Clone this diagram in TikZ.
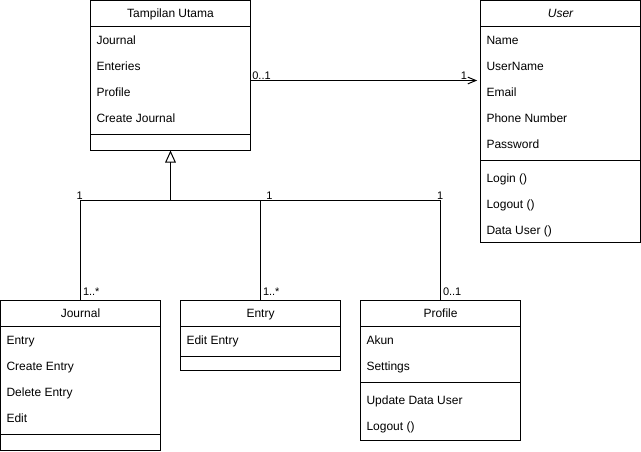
\documentclass[tikz,border=0pt]{standalone}
\usepackage{fontspec}
\setmainfont{Liberation Sans}
\usetikzlibrary{arrows.meta,positioning}
\tikzset{
  uml_head/.style = {draw, rectangle, inner sep=0pt, outer sep=0pt,
    minimum width=120pt, minimum height=19.5pt, text height=6.5pt,
    text depth=0pt, font=\fontsize{9}{11}\selectfont},% kelas, kepala
  uml_part/.style = {draw, rectangle, inner sep=0pt, outer sep=0pt,
    minimum width=120pt},% kelas, kompartemen
  uml_item/.style = {anchor=west, inner sep=0pt, text height=6.5pt,
    text depth=0pt, font=\fontsize{9}{11}\selectfont},% atribut, operasi
  uml_mult/.style = {inner sep=0pt, font=\fontsize{8.25}{10}\selectfont}% multiplisitas
}
\begin{document}
\begin{tikzpicture}[x=0.75pt, y=-0.75pt, line width=0.75pt,
  >={Straight Barb[length=6pt, width=5pt]}]
\useasboundingbox (0,0) rectangle (641,451);
% Tampilan Utama
\node [uml_head, anchor=north west] (utama) at (90.5,0.5) {Tampilan Utama};
\node [uml_part, minimum height=81pt, below=0pt of utama] (utamaAttr) {};
\node [uml_part, minimum height=12pt, below=0pt of utamaAttr] (utamaOps) {};
\node [uml_item] (u1) at (96,40) {Journal};
\node [uml_item] (u2) at (96,66) {Enteries};
\node [uml_item] (u3) at (96,92) {Profile};
\node [uml_item] (u4) at (96,118) {Create Journal};
% User
\node [uml_head, anchor=north west] (user) at (480.5,0.5) {\itshape User};
\node [uml_part, minimum height=100.5pt, below=0pt of user] (userAttr) {};
\node [uml_part, minimum height=61.5pt, below=0pt of userAttr] (userOps) {};
\node [uml_item] (s1) at (486,40) {Name};
\node [uml_item] (s2) at (486,66) {UserName};
\node [uml_item] (s3) at (486,92) {Email};
\node [uml_item] (s4) at (486,118) {Phone Number};
\node [uml_item] (s5) at (486,144) {Password};
\node [uml_item] (s6) at (486,178) {Login ()};
\node [uml_item] (s7) at (486,204) {Logout ()};
\node [uml_item] (s8) at (486,230) {Data User ()};
% Journal
\node [uml_head, anchor=north west] (journal) at (0.5,300.5) {Journal};
\node [uml_part, minimum height=81pt, below=0pt of journal] (journalAttr) {};
\node [uml_part, minimum height=12pt, below=0pt of journalAttr] (journalOps) {};
\node [uml_item] (j1) at (6,340) {Entry};
\node [uml_item] (j2) at (6,366) {Create Entry};
\node [uml_item] (j3) at (6,392) {Delete Entry};
\node [uml_item] (j4) at (6,418) {Edit};
% Entry
\node [uml_head, anchor=north west] (entry) at (180.5,300.5) {Entry};
\node [uml_part, minimum height=22.5pt, below=0pt of entry] (entryAttr) {};
\node [uml_part, minimum height=10.5pt, below=0pt of entryAttr] (entryOps) {};
\node [uml_item] (e1) at (186,340) {Edit Entry};
% Profile
\node [uml_head, anchor=north west] (profile) at (360.5,300.5) {Profile};
\node [uml_part, minimum height=42pt, below=0pt of profile] (profileAttr) {};
\node [uml_part, minimum height=43.5pt, below=0pt of profileAttr] (profileOps) {};
\node [uml_item] (p1) at (366,340) {Akun};
\node [uml_item] (p2) at (366,366) {Settings};
\node [uml_item] (p3) at (366,400) {Update Data User};
\node [uml_item] (p4) at (366,426) {Logout ()};
% asosiasi
\draw [->, shorten >=2.5pt] (utamaAttr.east)
  node [uml_mult, anchor=base west, xshift=1pt, yshift=0.75pt] {0..1}
  -- (utamaAttr.east -| userAttr.west)
  node [uml_mult, anchor=base east, xshift=-9.7pt, yshift=0.75pt] {1};
% generalisasi
\coordinate [below=37.5pt of utamaOps.south] (split);
\draw [-{Triangle[open, length=9pt, width=8pt]}] (split) -- (utamaOps.south);
\draw (journal.north)
  node [uml_mult, anchor=base west, xshift=1.5pt, yshift=3.4pt] {1..*}
  -- (journal.north |- split)
  node [uml_mult, anchor=base east, xshift=2pt, yshift=1.1pt] {1}
  -- (profile.north |- split)
  node [uml_mult, anchor=base west, xshift=-3pt, yshift=1.1pt] {1}
  -- (profile.north)
  node [uml_mult, anchor=base west, xshift=1.5pt, yshift=3.4pt] {0..1};
\draw (entry.north)
  node [uml_mult, anchor=base west, xshift=1.5pt, yshift=3.4pt] {1..*}
  -- (entry.north |- split)
  node [uml_mult, anchor=base west, xshift=4pt, yshift=1.1pt] {1};
\end{tikzpicture}
\end{document}
